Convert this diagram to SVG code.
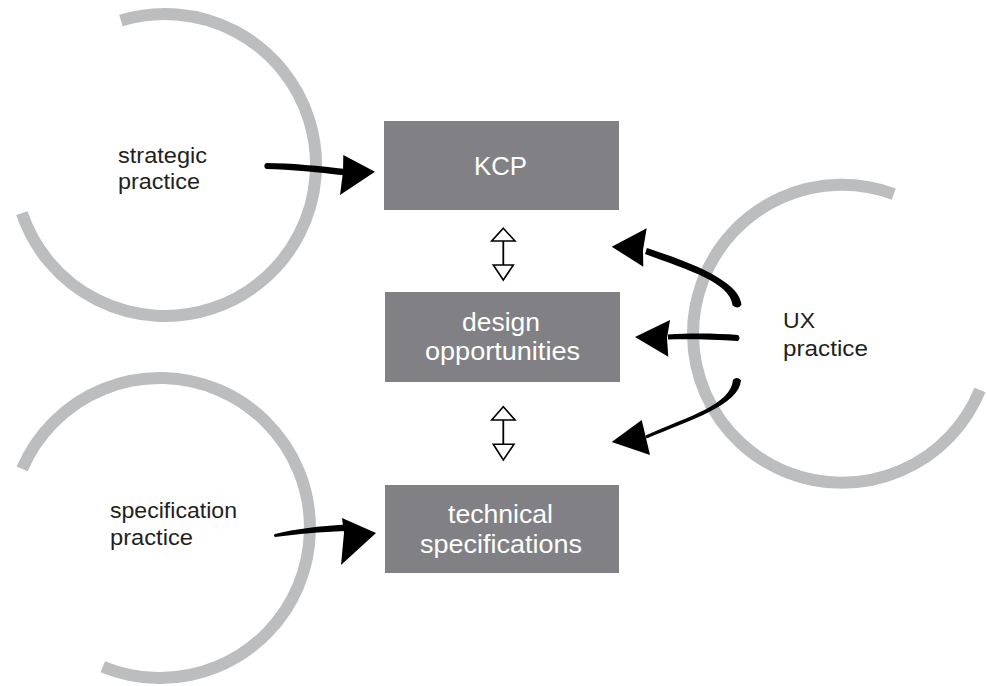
<svg xmlns="http://www.w3.org/2000/svg" width="987" height="686" viewBox="0 0 987 686">
  <style>
    .ring { fill: none; stroke: #bcbdbf; stroke-width: 12; stroke-linecap: butt; }
    .box { fill: #818185; }
    .boxlabel { font-family: "Liberation Sans", Arial, sans-serif; font-size: 25px; fill: #ffffff; text-anchor: middle; }
    .label { font-family: "Liberation Sans", Arial, sans-serif; font-size: 22px; fill: #231f20; }
    .ink { fill: #000000; }
    .dbl { fill: #ffffff; stroke: #000000; stroke-width: 1.6; stroke-linejoin: miter; }
    .stem { stroke: #000000; stroke-width: 1.8; fill: none; }
  </style>

  <!-- practice rings -->
  <g id="strategic-practice">
    <path class="ring" d="M 120.9,20.6 A 151 151 0 1 1 21.9,213.2"/>
    <text class="label" x="118" y="163" textLength="89" lengthAdjust="spacingAndGlyphs">strategic</text>
    <text class="label" x="118" y="189" textLength="82" lengthAdjust="spacingAndGlyphs">practice</text>
  </g>

  <g id="specification-practice">
    <path class="ring" d="M 22.1,468.9 A 150 150 0 1 1 102.8,666.7"/>
    <text class="label" x="110" y="518" textLength="127" lengthAdjust="spacingAndGlyphs">specification</text>
    <text class="label" x="110" y="545" textLength="83" lengthAdjust="spacingAndGlyphs">practice</text>
  </g>

  <g id="ux-practice">
    <path class="ring" d="M 980,390 A 149 149 0 1 1 893.8,194.1"/>
    <text class="label" x="783" y="328" textLength="32" lengthAdjust="spacingAndGlyphs">UX</text>
    <text class="label" x="783" y="356" textLength="85" lengthAdjust="spacingAndGlyphs">practice</text>
  </g>

  <!-- central boxes -->
  <g id="kcp">
    <rect class="box" x="384" y="121" width="235" height="89"/>
    <text class="boxlabel" x="500.5" y="175" textLength="53" lengthAdjust="spacingAndGlyphs">KCP</text>
  </g>

  <g id="design-opportunities">
    <rect class="box" x="385" y="292" width="235" height="90"/>
    <text class="boxlabel" x="501" y="331" textLength="78" lengthAdjust="spacingAndGlyphs">design</text>
    <text class="boxlabel" x="502.5" y="360" textLength="155" lengthAdjust="spacingAndGlyphs">opportunities</text>
  </g>

  <g id="technical-specifications">
    <rect class="box" x="385" y="485" width="234" height="88"/>
    <text class="boxlabel" x="500.5" y="523" textLength="105" lengthAdjust="spacingAndGlyphs">technical</text>
    <text class="boxlabel" x="501" y="553" textLength="162" lengthAdjust="spacingAndGlyphs">specifications</text>
  </g>

  <!-- connectors -->
  <g id="connectors">
    <!-- strategic practice to KCP -->
    <path class="ink" d="M 266,163 C 290,163 320,166 346,169 L 346,175.5 C 320,172.5 290,169.5 266,169 Q 262.5,166 266,163 Z"/>
    <polygon class="ink" points="343.3,155 375,171.7 340,195 343,172"/>

    <!-- specification practice to technical specifications -->
    <path class="ink" d="M 275,534 C 295,529 320,526 345,524.5 L 345,531 C 320,532 298,534 275,537 Q 273,535.5 275,534 Z"/>
    <polygon class="ink" points="342,518 376,533 341,565 344,533"/>

    <!-- UX practice to KCP -->
    <path class="ink" d="M 647,248 C 691,262.5 739.5,281 741.5,304.7 Q 738,310 732.5,305.3 C 730.5,283 689,270 645,254 Z"/>
    <polygon class="ink" points="611.7,246.7 646.7,228.3 643,250 643.3,266.7"/>

    <!-- UX practice to design opportunities -->
    <path class="ink" d="M 668,334.5 C 690,333 715,333 738,335 Q 741,338 738,341 C 715,339.5 690,339 668,339.5 Z"/>
    <polygon class="ink" points="635,337 670,320 667,338 668.3,356.7"/>

    <!-- UX practice to technical specifications -->
    <path class="ink" d="M 645.5,435.5 C 689.3,416 731,404.7 733,379.7 Q 737,376 741,380.3 C 739,405.3 690.7,420 646.5,438.5 Z"/>
    <polygon class="ink" points="611.7,442 641.7,420 646,438 650,455"/>

    <!-- KCP and design opportunities -->
    <line class="stem" x1="503.3" y1="241" x2="503.3" y2="265"/>
    <polygon class="dbl" points="503.3,228.3 515,241 491.7,241"/>
    <polygon class="dbl" points="493.3,265 513.3,265 503.3,280"/>

    <!-- design opportunities and technical specifications -->
    <line class="stem" x1="503.3" y1="420" x2="503.3" y2="444.3"/>
    <polygon class="dbl" points="503.3,406.7 515,420 491.7,420"/>
    <polygon class="dbl" points="493.3,444.3 514,444.3 503.3,460"/>
  </g>
</svg>
